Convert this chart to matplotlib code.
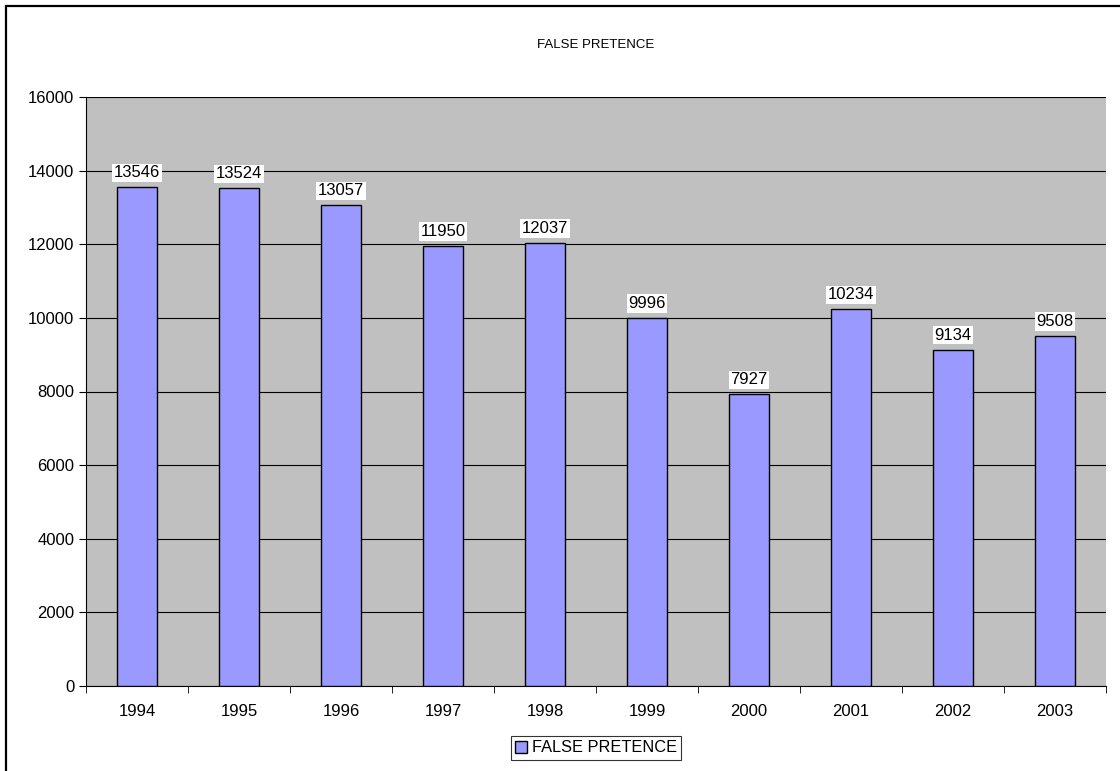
import matplotlib.pyplot as plt
from matplotlib.patches import Rectangle
import numpy as np

years = ["1994", "1995", "1996", "1997", "1998", "1999", "2000", "2001", "2002", "2003"]
cases = [13546, 13524, 13057, 11950, 12037, 9996, 7927, 10234, 9134, 9508]

plt.rcParams['font.family'] = ['Liberation Sans', 'DejaVu Sans']

fig = plt.figure(figsize=(11.2, 7.71), dpi=100)
ax = fig.add_axes([86 / 1120, 1 - 686 / 771, 1020 / 1120, 589 / 771])

# outer frame (only top/left visible in reference)
fig.patches.append(Rectangle((6 / 1120, -0.1), 1.2, 1 - 6 / 771 + 0.1, transform=fig.transFigure,
                             fill=False, edgecolor="black", linewidth=1.6))

x = np.arange(len(years))
ax.set_facecolor("#C0C0C0")
ax.bar(x, cases, width=0.4, color="#9999FF", edgecolor="black", linewidth=1,
       label="FALSE PRETENCE", zorder=3)

for xi, v in zip(x, cases):
    ax.annotate(str(v), (xi, v), xytext=(0, 5), textcoords="offset points",
                ha="center", va="bottom", fontsize=12, zorder=4,
                bbox=dict(facecolor="white", edgecolor="none", pad=1.2))

ax.set_xlim(-0.5, len(years) - 0.5)
ax.set_ylim(0, 16000)
ax.set_yticks(range(0, 16001, 2000))
ax.yaxis.grid(True, color="black", linewidth=0.8, zorder=0)
ax.set_axisbelow(True)

ax.set_xticks(x)
ax.set_xticklabels(years, fontsize=12)
ax.set_xticks(np.arange(-0.5, len(years)), minor=True)
ax.tick_params(axis="x", which="major", length=0, pad=13)
ax.tick_params(axis="x", which="minor", length=5, direction="out")
ax.tick_params(axis="y", length=5, direction="out", labelsize=12)

for s in ["top", "right"]:
    ax.spines[s].set_visible(False)

fig.text(596 / 1120, 1 - 45 / 771, "FALSE PRETENCE", ha="center", va="center", fontsize=9.5)

leg = fig.legend(loc="center", bbox_to_anchor=(596 / 1120, 1 - 748 / 771), fontsize=11.8,
                 frameon=True, fancybox=False, edgecolor="black", handlelength=0.7,
                 handleheight=0.7, handletextpad=0.3, borderpad=0.25)
leg.get_frame().set_linewidth(0.8)

fig.savefig("out.png", dpi=100)
